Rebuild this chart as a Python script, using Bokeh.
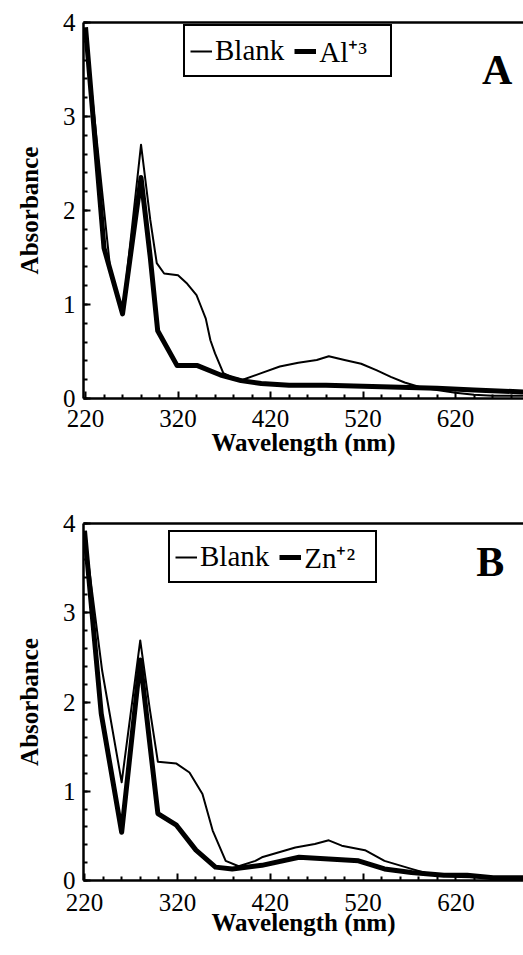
from bokeh.plotting import figure
from bokeh.models import FixedTicker, LinearAxis, Legend, LegendItem, Label, Range1d
from bokeh.layouts import column
from bokeh.embed import file_html
from bokeh.resources import INLINE

# ---------------- data ----------------
x_ticks = [220, 320, 420, 520, 620]
x_tick_labels = ["220", "320", "420", "520", "620"]
x_minor = [240, 260, 280, 300, 340, 360, 380, 400, 440, 460, 480, 500, 540, 560, 580, 600, 640, 660, 680, 700]
y_ticks = [0, 1, 2, 3, 4]

# Panel A
a_blank_wl = [220, 230, 247, 260, 270, 280, 290, 297, 305, 320, 330, 340, 344, 350, 355, 360, 369, 380, 390, 410,
              430, 450, 470, 483, 500, 518, 535, 550, 565, 582, 600, 620, 640, 660, 693]
a_blank_abs = [3.9, 2.95, 1.35, 0.9, 1.8, 2.7, 1.9, 1.44, 1.33, 1.31, 1.22, 1.1, 1.0, 0.85, 0.62, 0.48, 0.27, 0.22, 0.2, 0.27,
               0.34, 0.38, 0.41, 0.45, 0.41, 0.37, 0.3, 0.23, 0.17, 0.12, 0.09, 0.06, 0.04, 0.03, 0.03]
a_al_wl = [220, 240, 260, 280, 290, 298, 319, 341, 366, 388, 410, 440, 480, 520, 560, 600, 640, 693]
a_al_abs = [3.95, 1.6, 0.9, 2.35, 1.5, 0.72, 0.35, 0.35, 0.25, 0.19, 0.16, 0.14, 0.14, 0.13, 0.12, 0.11, 0.09, 0.07]

# Panel B
b_blank_wl = [220, 239, 260, 280, 290, 299, 319, 333, 347, 358, 372, 386, 404, 411, 447, 468, 483, 497, 522, 543,
              572, 596, 625, 660, 693]
b_blank_abs = [3.9, 2.35, 1.1, 2.69, 1.94, 1.33, 1.31, 1.21, 0.97, 0.56, 0.22, 0.16, 0.22, 0.26, 0.37, 0.41, 0.45, 0.39, 0.34, 0.22,
               0.13, 0.06, 0.04, 0.03, 0.03]
b_zn_wl = [220, 238, 260, 280, 290, 299, 319, 340, 361, 379, 411, 451, 483, 515, 543, 572, 607, 632, 660, 693]
b_zn_abs = [3.92, 1.87, 0.54, 2.47, 1.56, 0.75, 0.62, 0.34, 0.15, 0.13, 0.17, 0.26, 0.24, 0.22, 0.13, 0.09, 0.06, 0.06, 0.03, 0.03]

FONT = "'Liberation Serif', 'Times New Roman', serif"


def make_panel(height, border_left, border_top, border_bottom, x_start, x_end,
               blank_wl, blank_abs, ion_wl, ion_abs, ion_label, letter, letter_x, letter_y, legend_loc,
               tick_standoff, xlabel_standoff):
    p = figure(width=523, height=height, x_range=Range1d(x_start, x_end), y_range=Range1d(0, 4),
               output_backend="svg", toolbar_location=None,
               min_border_left=border_left, min_border_right=0,
               min_border_top=border_top, min_border_bottom=border_bottom)
    p.outline_line_color = None
    p.xgrid.grid_line_color = None
    p.ygrid.grid_line_color = None

    p.xaxis.ticker = FixedTicker(ticks=x_ticks, minor_ticks=x_minor)
    p.xaxis.major_label_overrides = {t: l for t, l in zip(x_ticks, x_tick_labels)}
    p.yaxis.ticker = FixedTicker(ticks=y_ticks, minor_ticks=[0.2 * i for i in range(21)])

    for ax in (p.xaxis[0], p.yaxis[0]):
        ax.axis_line_width = 2.5
        ax.axis_line_color = "black"
        ax.major_tick_in = 7
        ax.major_tick_out = 0
        ax.minor_tick_in = 4
        ax.minor_tick_out = 0
        ax.major_tick_line_width = 2
        ax.minor_tick_line_width = 2
        ax.major_label_text_font = FONT
        ax.major_label_text_font_style = "normal"
        ax.major_label_text_font_size = "25px"
        ax.major_label_text_color = "black"
        ax.axis_label_text_font = FONT
        ax.axis_label_text_font_size = "25px"
        ax.axis_label_text_font_style = "bold"
        ax.axis_label_text_color = "black"
    p.xaxis.axis_label = "Wavelength (nm)"
    p.yaxis.axis_label = "Absorbance"
    p.xaxis.major_label_standoff = tick_standoff
    p.yaxis.major_label_standoff = 8
    p.xaxis.axis_label_standoff = xlabel_standoff
    p.yaxis.axis_label_standoff = 17

    top = LinearAxis(ticker=FixedTicker(ticks=[]), axis_line_width=2.5, axis_line_color="black",
                     major_tick_in=0, major_tick_out=0, minor_tick_in=0, minor_tick_out=0)
    p.add_layout(top, "above")

    r_blank = p.line(blank_wl, blank_abs, line_color="black", line_width=2, line_join="round")
    r_ion = p.line(ion_wl, ion_abs, line_color="black", line_width=5, line_join="round")

    legend = Legend(items=[LegendItem(label="Blank", renderers=[r_blank]),
                           LegendItem(label=ion_label, renderers=[r_ion])],
                    orientation="horizontal", location=legend_loc)
    legend.border_line_color = "black"
    legend.border_line_alpha = 1.0
    legend.border_line_width = 2
    legend.label_text_font = FONT
    legend.label_text_font_style = "normal"
    legend.label_text_font_size = "29px"
    legend.label_text_color = "black"
    legend.glyph_width = 22
    legend.glyph_height = 22
    legend.label_standoff = 3
    legend.label_width = 66
    legend.spacing = 10
    legend.padding = 5
    legend.margin = 0
    p.add_layout(legend)

    p.add_layout(Label(x=letter_x, y=letter_y, text=letter, text_font=FONT, text_font_size="42px",
                       text_font_style="bold", text_align="center", text_baseline="alphabetic",
                       text_color="black"))
    return p


pA = make_panel(478, 83, 22, 80, 217.8, 693.5, a_blank_wl, a_blank_abs, a_al_wl, a_al_abs,
                "Al\u207a\u00b3", "A", 665, 3.5, (100, 321), 11, -1)
pB = make_panel(477, 80, 45, 75, 218.9, 692.7, b_blank_wl, b_blank_abs, b_zn_wl, b_zn_abs,
                "Zn\u207a\u00b2", "B", 657, 3.57, (85, 297), 13, -5)

layout = column(pA, pB, spacing=0)
open("out.html", "w").write(file_html(layout, INLINE))
